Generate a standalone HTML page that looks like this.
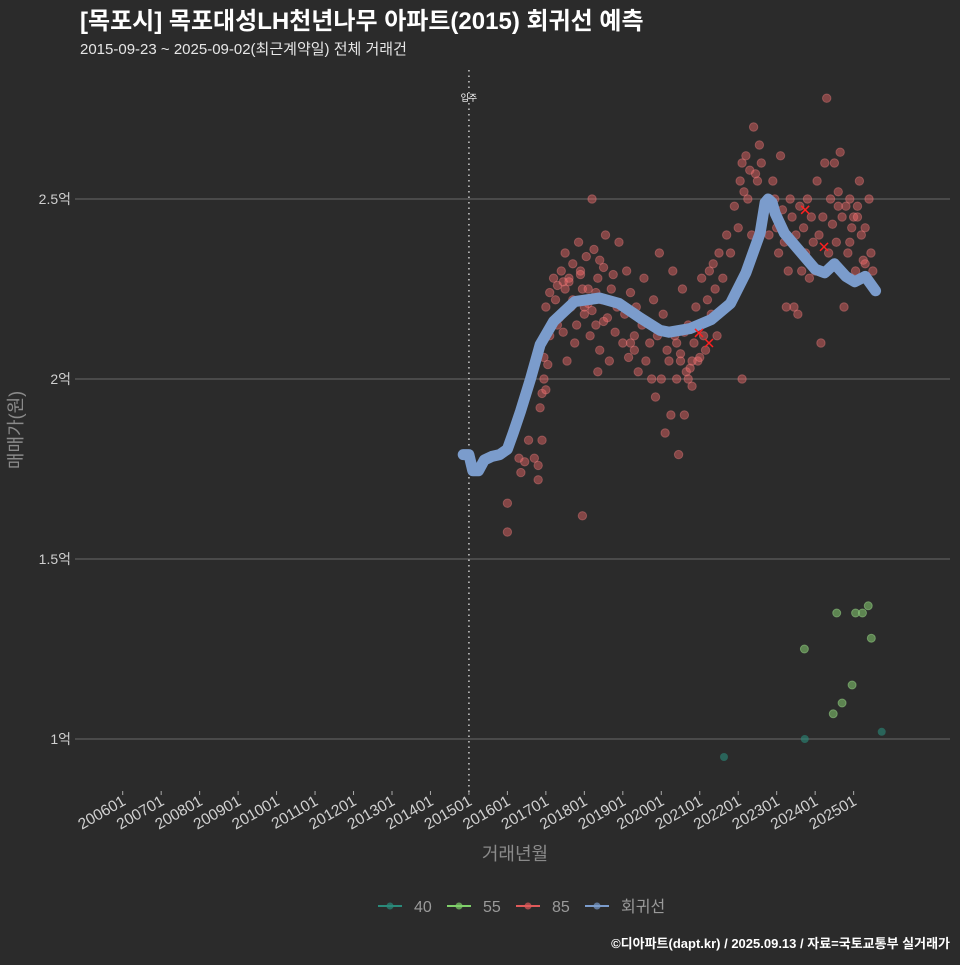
<!DOCTYPE html>
<html><head><meta charset="utf-8"><style>
html,body{margin:0;padding:0;background:#2b2b2b;}
body{width:960px;height:960px;overflow:hidden;font-family:"Liberation Sans","Noto Sans CJK KR",sans-serif;}
svg text{font-family:"Liberation Sans","Noto Sans CJK KR",sans-serif;}
</style></head><body>
<svg id="chart" width="960" height="960" xmlns="http://www.w3.org/2000/svg">
<rect width="960" height="960" fill="#2b2b2b"/>
<text x="80" y="29" fill="#ffffff" font-size="24" font-weight="bold">[목포시] 목포대성LH천년나무 아파트(2015) 회귀선 예측</text>
<text x="80" y="54" fill="#e6e6e6" font-size="15">2015-09-23 ~ 2025-09-02(최근계약일) 전체 거래건</text>
<g id="grid"></g>
<g id="yaxis"></g>
<g id="xaxis"></g>
<g id="marks"></g>
<text transform="translate(22,430) rotate(-90)" text-anchor="middle" fill="#8a8a8a" font-size="18">매매가(원)</text>
<text x="515" y="860" text-anchor="middle" fill="#8a8a8a" font-size="18">거래년월</text>
<g id="legend"></g>
<text x="950" y="948" text-anchor="end" fill="#ffffff" font-size="13" font-weight="bold">©디아파트(dapt.kr) / 2025.09.13 / 자료=국토교통부 실거래가</text>
</svg>
<script>
const yTicks=[1,1.5,2,2.5];
const yTickLabels=["1억","1.5억","2억","2.5억"];
const xTickYears=[2006,2007,2008,2009,2010,2011,2012,2013,2014,2015,2016,2017,2018,2019,2020,2021,2022,2023,2024,2025];
const xTickLabels=["200601","200701","200801","200901","201001","201101","201201","201301","201401","201501","201601","201701","201801","201901","202001","202101","202201","202301","202401","202501"];
const moveInYear=2015.0;
const s40Year=[2021.63,2023.73,2025.73];
const s40Val=[0.95,1.0,1.02];
const s55Year=[2023.72,2024.56,2025.05,2025.23,2025.38,2025.46,2024.96,2024.70,2024.47];
const s55Val=[1.25,1.35,1.35,1.35,1.37,1.28,1.15,1.10,1.07];
const s85Year=[2016.0,2016.0,2016.3,2016.35,2016.45,2016.55,2016.7,2016.8,2016.8,2016.9,2016.85,2016.9,2016.95,2017.0,2016.95,2017.05,2017.1,2017.0,2017.1,2017.2,2017.25,2017.3,2017.35,2017.4,2017.45,2017.5,2017.5,2017.55,2017.6,2017.65,2017.7,2017.75,2017.8,2017.85,2017.9,2017.95,2018.0,2018.05,2018.1,2018.15,2018.2,2018.25,2018.3,2018.35,2018.4,2018.45,2018.5,2018.55,2018.6,2018.65,2018.7,2018.75,2018.8,2018.85,2018.9,2019.0,2019.05,2019.1,2019.15,2019.2,2019.3,2019.35,2019.4,2019.5,2019.55,2019.6,2019.7,2019.75,2019.8,2019.85,2019.9,2019.95,2020.0,2020.05,2020.1,2020.15,2020.2,2020.25,2020.3,2020.35,2020.4,2020.45,2020.5,2020.55,2020.6,2020.65,2020.7,2020.75,2020.8,2020.85,2020.9,2020.95,2021.0,2021.05,2021.1,2021.15,2021.2,2021.25,2021.3,2021.35,2021.4,2021.45,2021.5,2021.6,2021.7,2021.8,2021.9,2022.0,2022.05,2022.1,2022.1,2022.15,2022.2,2022.25,2022.3,2022.4,2022.5,2022.55,2022.6,2022.65,2022.7,2022.8,2022.9,2022.95,2023.0,2023.05,2023.1,2023.15,2023.2,2023.25,2023.3,2023.35,2023.4,2023.45,2023.5,2023.55,2023.6,2023.65,2023.7,2023.75,2023.8,2023.85,2023.9,2023.95,2024.0,2024.05,2024.1,2024.15,2024.2,2024.25,2024.3,2024.35,2024.4,2024.45,2024.5,2024.55,2024.6,2024.65,2024.7,2024.75,2024.8,2024.85,2024.9,2024.95,2025.0,2025.05,2025.1,2025.15,2025.2,2025.25,2025.3,2025.35,2025.4,2025.45,2025.5,2017.95,2018.35,2019.3,2017.6,2017.7,2017.9,2018.1,2018.2,2018.4,2018.5,2020.4,2020.5,2020.6,2020.7,2020.8,2021.0,2017.3,2017.45,2018.0,2018.3,2019.6,2019.2,2024.6,2024.9,2025.1,2025.3,2022.45,2022.35];
const s85Val=[1.655,1.575,1.78,1.74,1.77,1.83,1.78,1.76,1.72,1.83,1.92,1.96,2.0,1.97,2.06,2.04,2.12,2.2,2.24,2.28,2.22,2.26,2.17,2.3,2.13,2.25,2.35,2.05,2.28,2.2,2.32,2.1,2.15,2.38,2.3,2.25,2.18,2.34,2.21,2.12,2.5,2.36,2.15,2.28,2.08,2.22,2.31,2.4,2.17,2.05,2.25,2.29,2.13,2.2,2.38,2.1,2.18,2.3,2.06,2.24,2.12,2.2,2.02,2.15,2.28,2.05,2.1,2.0,2.22,1.95,2.12,2.35,2.0,2.18,1.85,2.08,2.05,1.9,2.3,2.12,2.0,1.79,2.05,2.25,1.9,2.02,2.15,2.03,1.98,2.1,2.2,2.05,2.15,2.28,2.12,2.08,2.22,2.3,2.18,2.32,2.25,2.12,2.35,2.28,2.4,2.35,2.48,2.42,2.55,2.6,2.0,2.52,2.62,2.5,2.58,2.7,2.55,2.65,2.6,2.45,2.48,2.4,2.55,2.5,2.42,2.35,2.62,2.47,2.38,2.2,2.3,2.5,2.45,2.2,2.4,2.18,2.48,2.3,2.42,2.35,2.5,2.28,2.45,2.38,2.3,2.55,2.4,2.1,2.45,2.6,2.78,2.35,2.5,2.43,2.6,2.38,2.52,2.63,2.45,2.2,2.48,2.35,2.5,2.42,2.45,2.3,2.48,2.55,2.4,2.33,2.42,2.28,2.5,2.35,2.3,1.62,2.02,2.08,2.27,2.22,2.29,2.25,2.19,2.33,2.16,2.1,2.07,2.13,2.0,2.05,2.06,2.15,2.27,2.2,2.24,2.16,2.1,2.48,2.38,2.45,2.32,2.57,2.4];
const markYear=[2020.98,2021.24,2023.74,2024.23];
const markVal=[2.128,2.10,2.47,2.367];
const regYear=[2014.85,2015.0,2015.1,2015.25,2015.4,2015.6,2015.8,2016.0,2016.15,2016.34,2016.6,2016.85,2017.2,2017.75,2018.4,2018.9,2019.45,2019.97,2020.2,2020.75,2021.3,2021.8,2022.2,2022.57,2022.7,2022.78,2022.88,2022.96,2023.2,2023.6,2024.0,2024.25,2024.5,2024.8,2025.03,2025.3,2025.57];
const regVal=[1.79,1.79,1.745,1.745,1.775,1.785,1.79,1.805,1.85,1.91,2.0,2.095,2.16,2.215,2.225,2.21,2.17,2.135,2.13,2.14,2.165,2.21,2.295,2.405,2.49,2.5,2.49,2.46,2.405,2.355,2.305,2.295,2.32,2.285,2.27,2.285,2.245];

const NS="http://www.w3.org/2000/svg";
const X=y=>122.7+(y-2006)*38.47;
const Y=v=>739-(v-1)*360;
function mk(tag,attrs,parent){const e=document.createElementNS(NS,tag);for(const k in attrs)e.setAttribute(k,attrs[k]);parent.appendChild(e);return e;}
const grid=document.getElementById('grid'),ya=document.getElementById('yaxis'),xa=document.getElementById('xaxis'),marks=document.getElementById('marks'),lg=document.getElementById('legend');
yTicks.forEach((t,i)=>{
  const l=mk('line',{x1:75,x2:950,y1:Y(t),y2:Y(t),stroke:'#6a6a6a','stroke-width':1},grid);
  
  
  const tx=mk('text',{x:71,y:Y(t)+5,'text-anchor':'end',fill:'#cfcfcf','font-size':14},ya);
  tx.textContent=yTickLabels[i];
  
  
});
xTickYears.forEach((t,i)=>{
  const x=X(t);
  const l=mk('line',{x1:x,x2:x,y1:791,y2:795,stroke:'#aaa','stroke-width':1},xa);
  
  
  const tx=mk('text',{x:0,y:0,'text-anchor':'end',fill:'#d0d0d0','font-size':15.5,transform:`translate(${x+4},${804}) rotate(-30)`},xa);
  tx.textContent=xTickLabels[i];
  
  
});
const mv=mk('line',{x1:X(moveInYear),x2:X(moveInYear),y1:70,y2:793,stroke:'#cccccc','stroke-width':1.5,'stroke-dasharray':'1.5 4'},marks);


const mvt=mk('text',{x:X(moveInYear),y:101,'text-anchor':'middle',fill:'#ffffff','font-size':9},marks);
mvt.textContent='입주';


s40Year.forEach((y,i)=>{const c=mk('circle',{cx:X(y),cy:Y(s40Val[i]),r:4,fill:'#2a8a7a','fill-opacity':0.6},marks);
  
  });
s55Year.forEach((y,i)=>{const c=mk('circle',{cx:X(y),cy:Y(s55Val[i]),r:4,fill:'#7fbf6a','fill-opacity':0.6,stroke:'#9ad58a','stroke-opacity':0.5},marks);
  
  });
s85Year.forEach((y,i)=>{const c=mk('circle',{cx:X(y),cy:Y(s85Val[i]),r:4.2,fill:'#f06868','fill-opacity':0.45,stroke:'#ff8a8a','stroke-opacity':0.35,'stroke-width':1},marks);
  
  });
const d=regYear.map((y,i)=>(i?'L':'M')+X(y).toFixed(1)+','+Y(regVal[i]).toFixed(1)).join(' ');
const rp=mk('path',{d:d,fill:'none',stroke:'#7b9ccc','stroke-width':11,'stroke-linecap':'round','stroke-linejoin':'round'},marks);


markYear.forEach((y,i)=>{const cx=X(y),cy=Y(markVal[i]);
  const p=mk('path',{d:`M${cx-4},${cy-4}L${cx+4},${cy+4}M${cx-4},${cy+4}L${cx+4},${cy-4}`,stroke:'#ff2020','stroke-width':1.5},marks);
  
  });
const legItems=[['40','#2a8a7a'],['55','#7fd06a'],['85','#e05a5a'],['회귀선','#7b9ccc']];
const legX=[378,447,516,585];
legItems.forEach((it,i)=>{
  const g=mk('g',{},lg);
  
  
  mk('line',{x1:legX[i],x2:legX[i]+24,y1:906,y2:906,stroke:it[1],'stroke-width':2},g);
  mk('circle',{cx:legX[i]+12,cy:906,r:3.5,fill:it[1],'fill-opacity':0.7},g);
  const t=mk('text',{x:legX[i]+36,y:912,fill:'#9a9a9a','font-size':16},g);
  t.textContent=it[0];
});
</script>
</body></html>
